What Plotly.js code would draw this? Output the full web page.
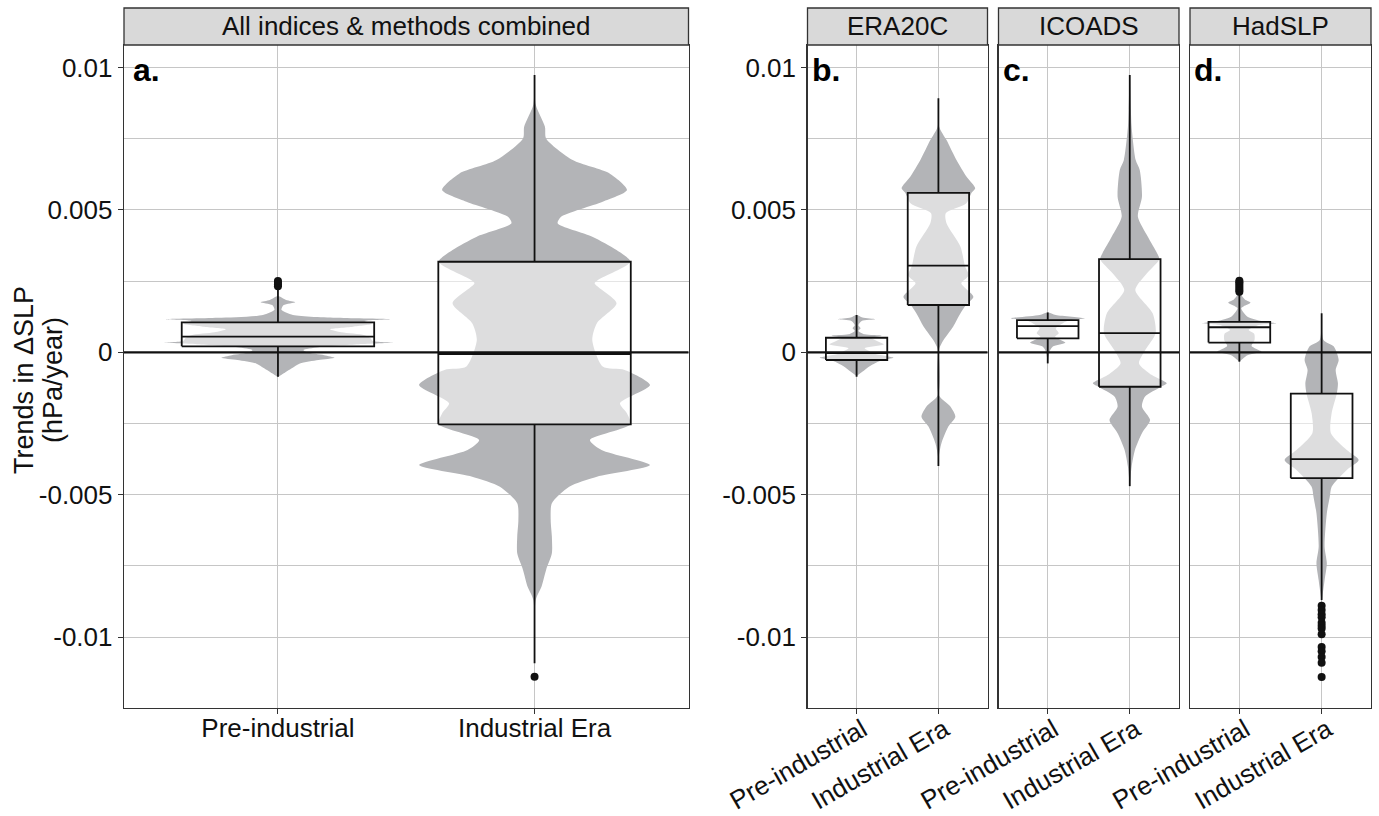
<!DOCTYPE html>
<html>
<head>
<meta charset="utf-8">
<script src="https://cdn.plot.ly/plotly-3.0.1.min.js"></script>
<style>
  html, body { margin: 0; padding: 0; background: #ffffff; }
  #chart { width: 1379px; height: 816px; }
</style>
</head>
<body>
<div id="chart"></div>
<script>
// Trends in ΔSLP (hPa/year): pre-industrial vs industrial era, violin + box per data set.

const categories = ['Pre-industrial', 'Industrial Era'];
const panelNames = ['All indices & methods combined', 'ERA20C', 'ICOADS', 'HadSLP'];
const panelTags = ['a.', 'b.', 'c.', 'd.'];
const yTickVals = [-0.01, -0.005, 0, 0.005, 0.01];
const yTickText = ['-0.01', '-0.005', '0', '0.005', '0.01'];
const yMinorVals = [-0.0075, -0.0025, 0.0025, 0.0075];
const yTitleLines = ['Trends in ΔSLP', '(hPa/year)'];

// Violin density profiles: trend level and relative density (1 = widest point)
const allPreLevels = [0.00198, 0.00184, 0.00176, 0.00166, 0.00149, 0.00131, 0.00121, 0.00116, 0.0011, 0.001, 0.0009, 0.00081, 0.0007, 0.0006, 0.0005, 0.0004, 0.00034, 0.00028, 0.00018, 0.00008, 0.0, -0.0001, -0.00019, -0.00027, -0.00039, -0.00056, -0.00074, -0.00088];
const allPreDensity = [0, 0.07, 0.15, 0.05, 0.03, 0.13, 0.52, 0.97, 0.75, 0.82, 0.65, 0.45, 0.55, 0.75, 0.8, 0.82, 1.0, 0.7, 0.35, 0.22, 0.25, 0.4, 0.49, 0.35, 0.19, 0.12, 0.05, 0];

const allIndLevels = [0.00974, 0.0087, 0.00792, 0.00751, 0.00675, 0.00628, 0.0057, 0.00529, 0.00476, 0.00453, 0.00406, 0.00359, 0.00318, 0.00254, 0.00242, 0.00172, 0.00102, 0.00043, -0.0005, -0.00062, -0.00115, -0.00179, -0.00214, -0.00253, -0.00308, -0.00343, -0.00396, -0.00437, -0.00472, -0.0053, -0.00589, -0.00647, -0.00706, -0.00764, -0.00823, -0.0087, -0.01139];
const allIndDensity = [0, 0.01, 0.09, 0.1, 0.33, 0.65, 0.8, 0.59, 0.23, 0.2, 0.5, 0.71, 0.83, 0.55, 0.52, 0.71, 0.54, 0.5, 0.59, 0.78, 1.0, 0.74, 0.8, 0.83, 0.48, 0.58, 1.0, 0.54, 0.3, 0.15, 0.14, 0.15, 0.15, 0.1, 0.06, 0.01, 0];

const eraPreLevels = [0.00131, 0.00122, 0.00116, 0.0011, 0.00095, 0.00084, 0.00075, 0.00063, 0.00058, 0.0005, 0.0004, 0.00028, 0.00014, 0.00005, -0.00005, -0.00019, -0.00028, -0.00045, -0.00062, -0.00083];
const eraPreDensity = [0, 0.16, 0.5, 0.14, 0.05, 0.11, 0.05, 0.22, 0.68, 0.4, 0.55, 0.74, 0.22, 0.33, 0.49, 1.0, 0.68, 0.41, 0.22, 0];

const eraIndLevels = [0.00892, 0.00792, 0.00745, 0.00675, 0.00617, 0.00576, 0.0056, 0.00523, 0.00488, 0.00453, 0.00371, 0.00304, 0.0027, 0.00242, 0.00195, 0.00166, 0.00137, 0.0009, 0.00043, 0.00008, -0.0015, -0.00191, -0.00226, -0.00261, -0.0032, -0.00367, -0.00399];
const eraIndDensity = [0, 0.02, 0.22, 0.49, 0.76, 1.0, 0.9, 0.76, 0.2, 0.22, 0.6, 0.72, 0.82, 0.62, 0.95, 0.75, 0.6, 0.4, 0.14, 0.01, 0.01, 0.33, 0.46, 0.27, 0.08, 0.01, 0];

const icoPreLevels = [0.0014, 0.00131, 0.00119, 0.00113, 0.00102, 0.00084, 0.00067, 0.00055, 0.00034, 0.0002, 0.00002, -0.00035];
const icoPreDensity = [0, 0.22, 1.0, 0.6, 0.41, 0.22, 0.3, 0.2, 0.48, 0.14, 0.05, 0];

const icoIndLevels = [0.00974, 0.00851, 0.00792, 0.00675, 0.0064, 0.00546, 0.00476, 0.00406, 0.00348, 0.00327, 0.00277, 0.00219, 0.00137, 0.00067, 0.00008, -0.00039, -0.0008, -0.00109, -0.00121, -0.00156, -0.00191, -0.00238, -0.00284, -0.00343, -0.00402, -0.0047];
const icoIndDensity = [0, 0.03, 0.05, 0.16, 0.27, 0.33, 0.22, 0.49, 0.74, 0.8, 0.46, 0.15, 0.62, 0.7, 0.42, 0.25, 0.6, 1.0, 0.85, 0.41, 0.33, 0.55, 0.33, 0.14, 0.05, 0];

const hadPreLevels = [0.00251, 0.00207, 0.00185, 0.00174, 0.00162, 0.00155, 0.00125, 0.00107, 0.00102, 0.00095, 0.00078, 0.00065, 0.00043, 0.00022, 0.00008, 0.00002, -0.0001, -0.00033];
const hadPreDensity = [0, 0.03, 0.15, 0.3, 0.12, 0.05, 0.22, 0.7, 1.0, 0.5, 0.25, 0.4, 0.41, 0.33, 0.52, 0.6, 0.22, 0];

const hadIndLevels = [0.00137, 0.00043, 0.0002, -0.00027, -0.00062, -0.00109, -0.00145, -0.00214, -0.00284, -0.00343, -0.00378, -0.00413, -0.00472, -0.00507, -0.00565, -0.00683, -0.00741, -0.008, -0.00858, -0.0087, -0.0114];
const hadIndDensity = [0, 0.05, 0.33, 0.46, 0.38, 0.44, 0.41, 0.27, 0.25, 0.68, 1.0, 0.68, 0.27, 0.22, 0.14, 0.08, 0.14, 0.08, 0.02, 0.01, 0];

// Box statistics, one row per panel: [Pre-industrial, Industrial Era]
const boxLower  = [[-0.00086, -0.01092], [-0.00086, -0.00399], [-0.00039, -0.0047], [-0.00033, -0.0087]];
const boxQ1     = [[0.00021, -0.00253], [-0.00027, 0.00166], [0.00049, -0.00121], [0.00034, -0.00442]];
const boxMedian = [[0.00055, -0.00006], [-0.00003, 0.00304], [0.00092, 0.00067], [0.00088, -0.00375]];
const boxQ3     = [[0.00105, 0.00318], [0.00051, 0.0056], [0.00113, 0.00327], [0.00107, -0.00145]];
const boxUpper  = [[0.00219, 0.00974], [0.00131, 0.00892], [0.0014, 0.00974], [0.00207, 0.00137]];

// Outlying trends beyond the whiskers
const allPreOutliers = [0.00232, 0.00238, 0.00244, 0.0025];
const allIndOutliers = [-0.01139];
const hadPreOutliers = [0.00213, 0.00219, 0.00226, 0.00233, 0.0024, 0.00246, 0.00251];
const hadIndOutliers = [-0.0089, -0.00905, -0.0092, -0.0093, -0.0095, -0.0096, -0.0097, -0.0099, -0.01035, -0.0105, -0.0107, -0.0109, -0.0114];

const violinProfiles = [
  [[allPreLevels, allPreDensity], [allIndLevels, allIndDensity]],
  [[eraPreLevels, eraPreDensity], [eraIndLevels, eraIndDensity]],
  [[icoPreLevels, icoPreDensity], [icoIndLevels, icoIndDensity]],
  [[hadPreLevels, hadPreDensity], [hadIndLevels, hadIndDensity]]
];
const outlierSets = [
  [allPreOutliers, allIndOutliers], [[], []], [[], []], [hadPreOutliers, hadIndOutliers]
];

// Drawing constants
const VIOLIN_HALF = 0.45;
const BOX_HALF = 0.375;
const VIOLIN_FILL = '#b3b4b7';
const BOX_FILL = 'rgba(255,255,255,0.55)';
const INK = '#111111';
const GRID = '#c6c6c6';
const FRAME = '#333333';
const FONT = 'Liberation Sans, Arial, Helvetica, sans-serif';
const AXIS_FONT_SIZE = 26;

// Page geometry in pixels
const W = 1379, H = 816;
const panelPx = [[124, 688.5], [807.5, 987.5], [998.5, 1179], [1190, 1371]];
const plotTop = 45, plotBottom = 708, stripTop = 8;
const yRange = [-0.01249, 0.01079];

const traces = [];
function axisSuffix(i) { return i === 0 ? '' : String(i + 1); }

for (let p = 0; p < 4; p++) {
  const xa = 'x' + axisSuffix(p), ya = 'y' + axisSuffix(p);
  for (let c = 0; c < 2; c++) {
    const pos = c + 1;
    const levels = violinProfiles[p][c][0];
    const dens = violinProfiles[p][c][1];
    // violin outline: right side top to bottom, then left side bottom to top
    const vx = [], vy = [];
    for (let k = 0; k < levels.length; k++) { vx.push(pos + dens[k] * VIOLIN_HALF); vy.push(levels[k]); }
    for (let k = levels.length - 1; k >= 0; k--) { vx.push(pos - dens[k] * VIOLIN_HALF); vy.push(levels[k]); }
    traces.push({
      type: 'scatter', mode: 'lines', x: vx, y: vy, xaxis: xa, yaxis: ya,
      fill: 'toself', fillcolor: VIOLIN_FILL,
      line: { width: 0, shape: 'spline', smoothing: 0.7, color: VIOLIN_FILL },
      hoverinfo: 'skip', showlegend: false
    });
    // box body (translucent white over the violin)
    const q1 = boxQ1[p][c], q3 = boxQ3[p][c], med = boxMedian[p][c];
    traces.push({
      type: 'scatter', mode: 'lines', xaxis: xa, yaxis: ya,
      x: [pos - BOX_HALF, pos + BOX_HALF, pos + BOX_HALF, pos - BOX_HALF, pos - BOX_HALF],
      y: [q1, q1, q3, q3, q1],
      fill: 'toself', fillcolor: BOX_FILL,
      line: { color: INK, width: 1.8 }, hoverinfo: 'skip', showlegend: false
    });
    // median and whiskers
    traces.push({
      type: 'scatter', mode: 'lines', xaxis: xa, yaxis: ya,
      x: [pos - BOX_HALF, pos + BOX_HALF, null, pos, pos, null, pos, pos],
      y: [med, med, null, q3, boxUpper[p][c], null, q1, boxLower[p][c]],
      line: { color: INK, width: 1.8 }, hoverinfo: 'skip', showlegend: false
    });
    const outs = outlierSets[p][c];
    if (outs.length) {
      traces.push({
        type: 'scatter', mode: 'markers', xaxis: xa, yaxis: ya,
        x: outs.map(() => pos), y: outs,
        marker: { color: INK, size: 8 }, hoverinfo: 'skip', showlegend: false
      });
    }
  }
}

const layout = {
  width: W, height: H,
  margin: { l: 0, r: 0, t: 0, b: 0 },
  paper_bgcolor: '#ffffff', plot_bgcolor: '#ffffff',
  font: { family: FONT, color: INK, size: 20 },
  showlegend: false,
  shapes: [], annotations: []
};

const yDomain = [1 - plotBottom / H, 1 - plotTop / H];
for (let p = 0; p < 4; p++) {
  const s = axisSuffix(p);
  const dom = [panelPx[p][0] / W, panelPx[p][1] / W];
  layout['xaxis' + s] = {
    domain: dom, anchor: 'y' + s, range: [0.4, 2.6],
    tickmode: 'array', tickvals: [1, 2], ticktext: categories,
    tickangle: p === 0 ? 0 : -30,
    ticklabelstandoff: p === 0 ? -9 : -10,
    ticklabelshift: p === 0 ? 0 : 6,
    tickfont: { size: AXIS_FONT_SIZE, color: INK, family: FONT },
    ticks: 'outside', ticklen: 5, tickcolor: FRAME, tickwidth: 1,
    showgrid: true, gridcolor: GRID, gridwidth: 1,
    zeroline: false, showline: true, mirror: true, linecolor: FRAME, linewidth: 1.3,
    fixedrange: true
  };
  layout['yaxis' + s] = {
    domain: yDomain, anchor: 'x' + s, range: yRange,
    tickmode: 'array', tickvals: yTickVals, ticktext: yTickText,
    showticklabels: p < 2, ticks: p < 2 ? 'outside' : '', ticklen: 5, tickcolor: FRAME,
    tickfont: { size: AXIS_FONT_SIZE, color: INK, family: FONT },
    showgrid: true, gridcolor: GRID, gridwidth: 1,
    minor: { tickmode: 'array', tickvals: yMinorVals, showgrid: true, gridcolor: GRID, gridwidth: 1, ticks: '' },
    zeroline: false, showline: true, mirror: true, linecolor: FRAME, linewidth: 1.3,
    fixedrange: true
  };
  // reference line at zero trend
  layout.shapes.push({
    type: 'line', xref: 'x' + s + ' domain', yref: 'y' + s,
    x0: 0, x1: 1, y0: 0, y1: 0, line: { color: INK, width: 2.2 }, layer: 'above'
  });
  // facet strip
  layout.shapes.push({
    type: 'rect', xref: 'paper', yref: 'paper',
    x0: dom[0], x1: dom[1], y0: 1 - plotTop / H, y1: 1 - stripTop / H,
    fillcolor: '#d9d9d9', line: { color: FRAME, width: 1.3 }, layer: 'above'
  });
  layout.annotations.push({
    xref: 'paper', yref: 'paper', x: (dom[0] + dom[1]) / 2, y: 1 - (plotTop + stripTop) / 2 / H,
    text: panelNames[p], showarrow: false, xanchor: 'center', yanchor: 'middle',
    font: { size: 26, color: INK, family: FONT }
  });
  layout.annotations.push({
    xref: 'x' + s + ' domain', yref: 'y' + s + ' domain', x: 0.012, y: 0.993,
    text: '<b>' + panelTags[p] + '</b>', showarrow: false, xanchor: 'left', yanchor: 'top',
    font: { size: 32, color: '#000000', family: FONT }
  });
}

// y-axis title in two rotated lines, left of panel a
const titleCentresPx = [24, 53];
yTitleLines.forEach((line, i) => {
  layout.annotations.push({
    xref: 'paper', yref: 'paper', x: titleCentresPx[i] / W, y: 1 - 380 / H,
    text: line, textangle: -90, showarrow: false, xanchor: 'center', yanchor: 'middle',
    font: { size: 27, color: INK, family: FONT }
  });
});

Plotly.newPlot('chart', traces, layout, { displayModeBar: false, staticPlot: true });
</script>
</body>
</html>
